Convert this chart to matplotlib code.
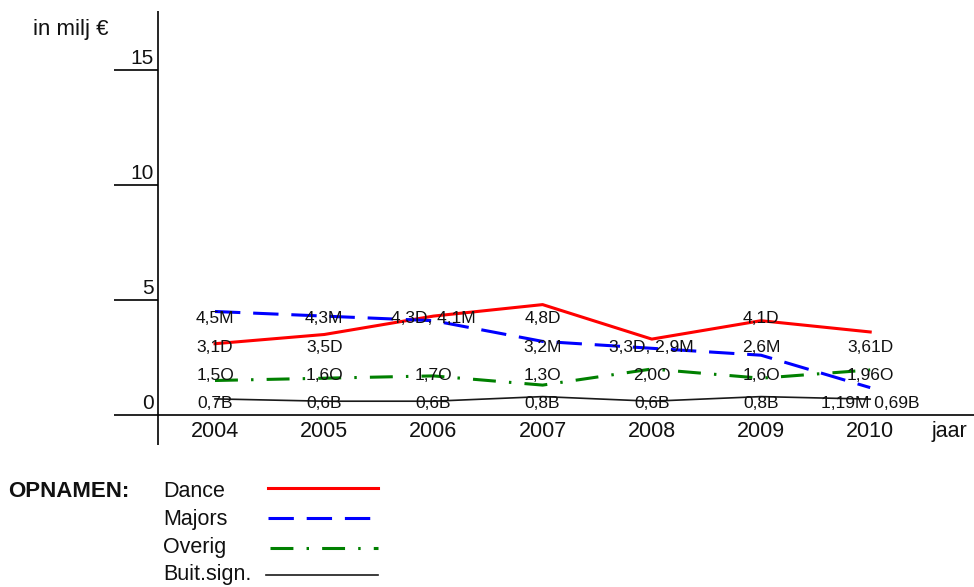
"""Opnamen per jaar: lijnen Dance, Majors, Overig en Buit.sign."""

import matplotlib

matplotlib.use("Agg")
import matplotlib.pyplot as plt

plt.rcParams["font.family"] = ["Liberation Sans", "DejaVu Sans"]

# data (in milj euro)
years = [2004, 2005, 2006, 2007, 2008, 2009, 2010]
dance = [3.1, 3.5, 4.3, 4.8, 3.3, 4.1, 3.61]
majors = [4.5, 4.3, 4.1, 3.2, 2.9, 2.6, 1.19]
overig = [1.5, 1.6, 1.7, 1.3, 2.0, 1.6, 1.96]
buit = [0.7, 0.6, 0.6, 0.8, 0.6, 0.8, 0.69]
y_ticks = [0, 5, 10, 15]

# value labels, four fixed rows under each year
label_rows = [
    ["4,5M", "4,3M", "4,3D, 4,1M", "4,8D", "", "4,1D", ""],
    ["3,1D", "3,5D", "", "3,2M", "3,3D, 2,9M", "2,6M", "3,61D"],
    ["1,5O", "1,6O", "1,7O", "1,3O", "2,0O", "1,6O", "1,96O"],
    ["0,7B", "0,6B", "0,6B", "0,8B", "0,6B", "0,8B", "1,19M 0,69B"],
]

W, H = 974, 587
PX_YEAR = 109.2  # pixels per year
PX_UNIT = 23.0  # pixels per milj
X0, Y0, TOP = 158, 415, 11  # axis pixel positions

fig = plt.figure(figsize=(W / 100, H / 100), dpi=100)
ax = fig.add_axes([X0 / W, (H - Y0) / H, (W - X0) / W, (Y0 - TOP) / H])
xmin = years[0] - (215 - X0) / PX_YEAR
xmax = years[0] + (W - 215) / PX_YEAR
ymax = (Y0 - TOP) / PX_UNIT
ax.set_xlim(xmin, xmax)
ax.set_ylim(0, ymax)
ax.axis("off")

px = 1 / PX_YEAR
py = 1 / PX_UNIT
text_color = "#111111"

# axes drawn by hand, like the original
axis_kw = dict(color="black", lw=1.2, clip_on=False, solid_capstyle="butt")
ax.plot([xmin, xmin], [-30 * py, ymax], **axis_kw)
ax.plot([xmin - 44 * px, xmax], [0, 0], **axis_kw)
for v in y_ticks:
    if v > 0:
        ax.plot([xmin - 44 * px, xmin], [v, v], **axis_kw)
    ax.text(xmin - 4 * px, v + 6 * py, str(v), ha="right", va="baseline",
            fontsize=15, color=text_color)

for yr in years:
    ax.text(yr, -22 * py, str(yr), ha="center", va="baseline",
            fontsize=15.5, color=text_color, clip_on=False)
ax.text(years[0] + (932 - 215) * px, -22 * py, "jaar", ha="left",
        va="baseline", fontsize=15.5, color=text_color, clip_on=False)

styles = {
    "Dance": dict(color="#ff0000", lw=2.2, linestyle="-"),
    "Majors": dict(color="#0000ff", lw=2.2, linestyle=(0, (8.3, 4.2))),
    "Overig": dict(color="#008000", lw=2.2,
                   linestyle=(0, (7.5, 4.3, 0.8, 4.3))),
    "Buit.sign.": dict(color="#1a1a1a", lw=1.2, linestyle="-"),
}
series = {"Dance": dance, "Majors": majors, "Overig": overig,
          "Buit.sign.": buit}
for name, vals in series.items():
    ax.plot(years, vals, **styles[name])

row_baselines = [323, 352, 380, 408]
for row, base in zip(label_rows, row_baselines):
    for yr, txt in zip(years, row):
        if txt:
            ax.text(yr, (Y0 - base) * py, txt, ha="center", va="baseline",
                    fontsize=12.5, color=text_color)

# overlay in pixel coordinates for unit text and legend
lax = fig.add_axes([0, 0, 1, 1])
lax.set_xlim(0, W)
lax.set_ylim(H, 0)
lax.axis("off")

lax.text(33, 35, "in milj €", ha="left", va="baseline", fontsize=16,
         color=text_color)
lax.text(8, 497, "OPNAMEN:", ha="left", va="baseline", fontsize=16,
         fontweight="bold", color=text_color)

legend_items = [
    ("Dance", 497, 488, 268, 378),
    ("Majors", 525, 518, 268, 370),
    ("Overig", 553, 548, 270, 378),
    ("Buit.sign.", 580, 575, 266, 378),
]
for name, base, ly, lx0, lx1 in legend_items:
    lax.text(163, base, name, ha="left", va="baseline", fontsize=15.5,
             color=text_color)
    lax.plot([lx0, lx1], [ly, ly], **styles[name])

fig.savefig("out.png", dpi=100)
